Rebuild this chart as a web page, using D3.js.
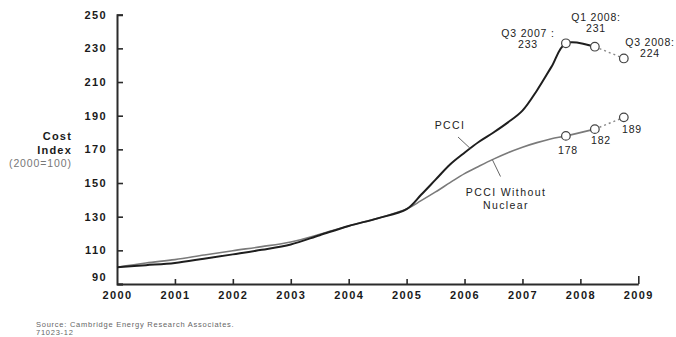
<!DOCTYPE html>
<html>
<head>
<meta charset="utf-8">
<script src="https://cdn.jsdelivr.net/npm/d3@7/dist/d3.min.js"></script>
<style>
  html, body { margin: 0; padding: 0; background: #fff; }
  svg { display: block; font-family: "Liberation Sans", Arial, sans-serif; }
</style>
</head>
<body>
<svg id="chart" width="676" height="337"></svg>
<script>
// Power Capital Costs Index, 2000 = 100
const years = [2000, 2001, 2002, 2003, 2004, 2005, 2006, 2007, 2008, 2009];
const yTicks = [90, 110, 130, 150, 170, 190, 210, 230, 250];

// half-yearly to 2005, quarterly afterwards
const periods = [2000, 2000.5, 2001, 2001.5, 2002, 2002.5, 2003, 2003.5, 2004, 2004.5,
                 2005, 2005.25, 2005.5, 2005.75, 2006, 2006.25, 2006.5, 2006.75,
                 2007, 2007.25, 2007.5, 2007.75, 2008.25, 2008.75];
const pcciValues = [100, 101.2, 102.5, 105, 107.6, 110.3, 113.5, 119, 124.5, 129,
                    134.5, 143, 152, 161, 168, 174.5, 180, 186,
                    193, 205, 219, 233, 231, 224];
const noNucValues = [100, 102.5, 104.5, 107.2, 109.8, 112.2, 115, 119.5, 124.5, 129,
                     134.5, 139.5, 144.7, 150.2, 155.6, 160, 164.2, 168,
                     171.3, 174, 176.3, 178, 182, 189];

// the last three points of each series are called out
const calloutIdx = [21, 22, 23];
const pcciCallouts = [["Q3 2007 :", "233"], ["Q1 2008:", "231"], ["Q3 2008:", "224"]];
const noNucCallouts = ["178", "182", "189"];

const svg = d3.select("#chart");
const x = d3.scaleLinear().domain([2000, 2009]).range([117, 638.3]);
const y = d3.scaleLinear().domain([90, 250]).range([284, 14.7]);

const axisColor = "#2b2b2b";

// y axis: ticks point inward
const yAxis = svg.append("g")
  .attr("transform", `translate(${x(2000)},0)`)
  .call(d3.axisLeft(y).tickValues(yTicks).tickSizeInner(-6).tickSizeOuter(-6).tickPadding(10));
yAxis.select(".domain").attr("stroke", axisColor).attr("stroke-width", 2);
yAxis.selectAll(".tick line").attr("stroke", axisColor).attr("stroke-width", 1.6);
yAxis.selectAll(".tick text")
  .attr("fill", "#1a1a1a").attr("font-size", 11).attr("font-weight", "bold")
  .attr("letter-spacing", "1.4px")
  .attr("font-family", "'Liberation Sans', Arial, sans-serif")
  .filter(d => d === 90).attr("dy", "-0.3em");

// x axis
const xAxis = svg.append("g")
  .attr("transform", `translate(0,${y(90)})`)
  .call(d3.axisBottom(x).tickValues(years).tickFormat(d3.format("d"))
    .tickSizeInner(-5).tickSizeOuter(0).tickPadding(7));
xAxis.select(".domain").attr("stroke", axisColor).attr("stroke-width", 2);
xAxis.selectAll(".tick line").attr("stroke", axisColor).attr("stroke-width", 1.6)
  .filter(d => d === 2000).remove();
xAxis.selectAll(".tick line").filter(d => d === 2009).attr("y2", -8);
xAxis.selectAll(".tick text")
  .attr("fill", "#1a1a1a").attr("font-size", 11).attr("font-weight", "bold")
  .attr("letter-spacing", "1.4px")
  .attr("font-family", "'Liberation Sans', Arial, sans-serif");

// y axis title
const yTitle = svg.append("g").attr("text-anchor", "end");
yTitle.append("text").attr("x", 72).attr("y", 140).text("Cost")
  .attr("font-size", 11).attr("font-weight", "bold").attr("letter-spacing", "1.2px").attr("fill", "#1a1a1a");
yTitle.append("text").attr("x", 72).attr("y", 154).text("Index")
  .attr("font-size", 11).attr("font-weight", "bold").attr("letter-spacing", "1.2px").attr("fill", "#1a1a1a");
yTitle.append("text").attr("x", 72).attr("y", 166.5).text("(2000=100)")
  .attr("font-size", 10.5).attr("fill", "#777").attr("letter-spacing", "0.9px");

const line = d3.line().x(d => x(d[0])).y(d => y(d[1])).curve(d3.curveCatmullRom.alpha(0.5));
const straight = d3.line().x(d => x(d[0])).y(d => y(d[1]));
const pcci = periods.map((t, i) => [t, pcciValues[i]]);
const noNuc = periods.map((t, i) => [t, noNucValues[i]]);
const last = periods.length - 1;

// PCCI without nuclear (grey)
svg.append("path").datum(noNuc.slice(0, last)).attr("d", line)
  .attr("fill", "none").attr("stroke", "#7a7a7a").attr("stroke-width", 1.6);
svg.append("path").datum(noNuc.slice(last - 1)).attr("d", straight)
  .attr("fill", "none").attr("stroke", "#888").attr("stroke-width", 1.4).attr("stroke-dasharray", "2,3");

// PCCI (black)
svg.append("path").datum(pcci.slice(0, last)).attr("d", line)
  .attr("fill", "none").attr("stroke", "#1e1e1e").attr("stroke-width", 2);
svg.append("path").datum(pcci.slice(last - 1)).attr("d", straight)
  .attr("fill", "none").attr("stroke", "#888").attr("stroke-width", 1.4).attr("stroke-dasharray", "2,3");

// callout markers
[pcci, noNuc].forEach(series => {
  svg.selectAll(null).data(calloutIdx.map(i => series[i])).enter().append("circle")
    .attr("cx", d => x(d[0])).attr("cy", d => y(d[1])).attr("r", 4.3)
    .attr("fill", "#fff").attr("stroke", "#444").attr("stroke-width", 1.2);
});

// callout labels
const calloutFont = { size: 10.5, spacing: "0.8px", fill: "#222" };
const pcciLabelPos = [[528, 36.5], [596, 20.5], [650, 45.5]];
pcciCallouts.forEach((lines, k) => {
  const g = svg.append("text").attr("text-anchor", "middle")
    .attr("font-size", calloutFont.size).attr("letter-spacing", calloutFont.spacing).attr("fill", calloutFont.fill);
  lines.forEach((s, j) => g.append("tspan").attr("x", pcciLabelPos[k][0]).attr("y", pcciLabelPos[k][1] + j * 11.5).text(s));
});
const noNucLabelPos = [[568, 154], [601, 143.5], [632, 133]];
noNucCallouts.forEach((s, k) => {
  svg.append("text").attr("text-anchor", "middle").attr("x", noNucLabelPos[k][0]).attr("y", noNucLabelPos[k][1])
    .attr("font-size", calloutFont.size).attr("letter-spacing", calloutFont.spacing).attr("fill", calloutFont.fill).text(s);
});

// series labels with leader lines
svg.append("text").attr("x", 450).attr("y", 129).attr("text-anchor", "middle")
  .attr("font-size", 10.5).attr("letter-spacing", "1.4px").attr("fill", "#222").text("PCCI");
svg.append("line").attr("x1", 458).attr("y1", 137).attr("x2", x(2006.1)).attr("y2", y(170.5))
  .attr("stroke", "#666").attr("stroke-width", 1);

const nnLabel = svg.append("text").attr("text-anchor", "middle")
  .attr("font-size", 10.5).attr("letter-spacing", "1.4px").attr("fill", "#222");
nnLabel.append("tspan").attr("x", 506).attr("y", 196).text("PCCI Without");
nnLabel.append("tspan").attr("x", 506).attr("y", 208.5).text("Nuclear");
svg.append("line").attr("x1", x(2006.48)).attr("y1", y(163.9)).attr("x2", 500.5).attr("y2", 176.5)
  .attr("stroke", "#666").attr("stroke-width", 1);

// source note
const note = svg.append("text").attr("font-size", 7.5).attr("letter-spacing", "0.75px").attr("fill", "#666");
note.append("tspan").attr("x", 36).attr("y", 326.5).text("Source: Cambridge Energy Research Associates.");
note.append("tspan").attr("x", 36).attr("y", 335).text("71023-12");
</script>
</body>
</html>
